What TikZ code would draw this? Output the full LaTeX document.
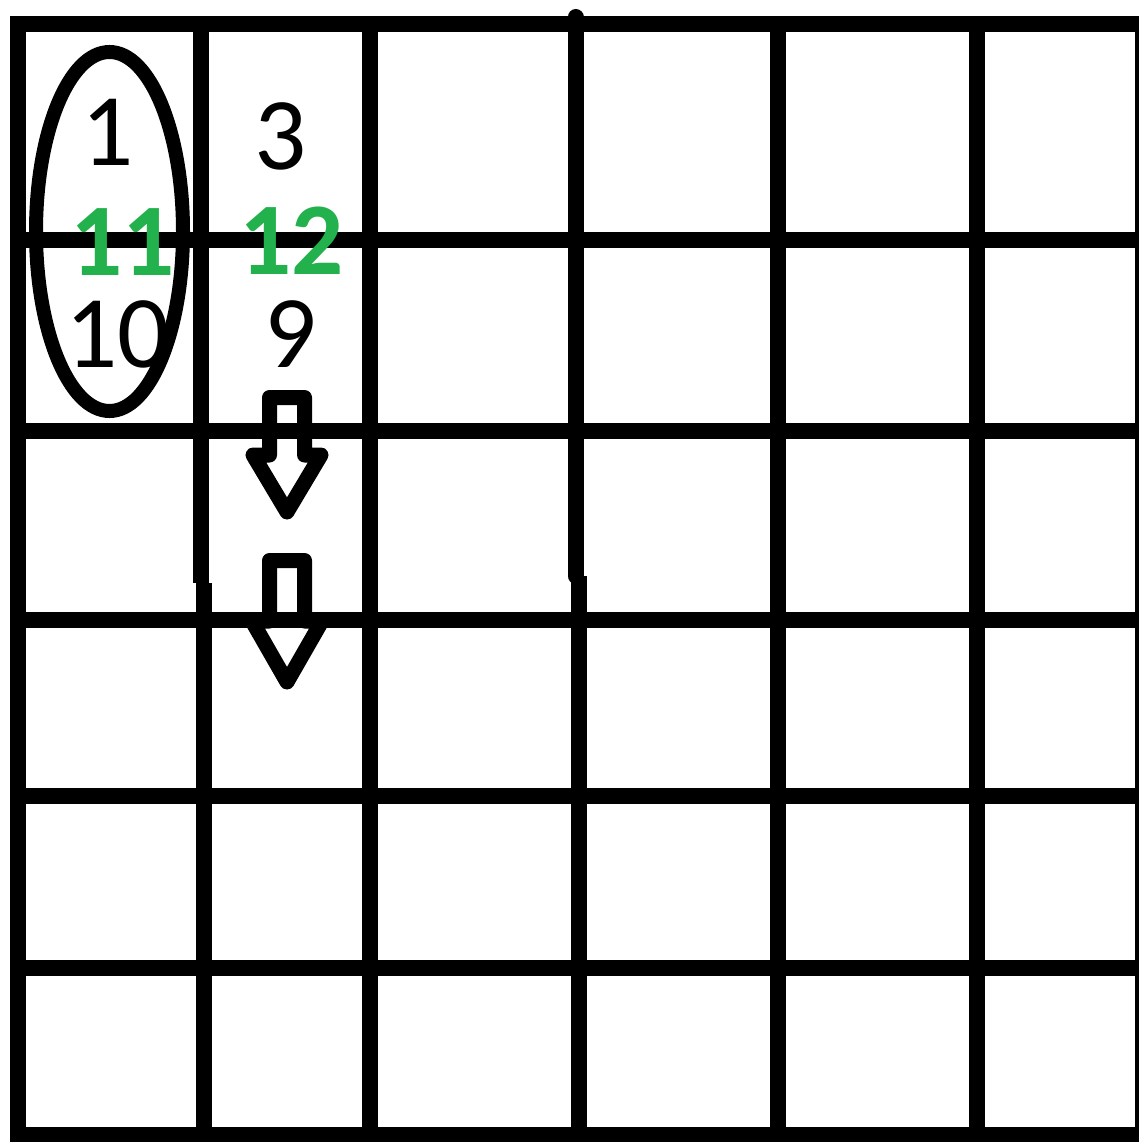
\documentclass[tikz,border=0pt]{standalone}
\usepackage{fontspec}
\setmainfont{Carlito}
\usetikzlibrary{shapes.geometric}

\definecolor{paintgreen}{RGB}{34,177,76}

\begin{document}
\begin{tikzpicture}[
  x=1pt, y=-1pt,
  gridline/.style={line width=16pt},
  ring/.style={draw, ellipse, line width=14pt, inner sep=0pt, minimum width=147pt, minimum height=359pt},
  blockarrow/.style={draw, line width=15pt, line join=round},
  num/.style={inner sep=0pt, font=\fontsize{103}{103}\selectfont},
  greennum/.style={num, text=paintgreen, font=\fontsize{103}{103}\selectfont\bfseries}
]
\useasboundingbox (0,0) rectangle (1139,1142);

\draw[gridline] (18,24) rectangle (1143,1134.5);

\draw[gridline] (200.5,24) -- (200.5,583);
\draw[gridline] (204,583) -- (204,1134.5);
\draw[gridline] (370,24) -- (370,1134.5);
\draw[gridline, line cap=round] (575.5,17) -- (575.5,576);
\draw[gridline] (579,576) -- (579,1134.5);
\draw[gridline] (778,24) -- (778,1134.5);
\draw[gridline] (976.5,24) -- (976.5,1134.5);

\draw[gridline] (18,239.5) -- (1143,239.5);
\draw[gridline] (18,430.5) -- (1143,430.5);
\draw[gridline] (18,620) -- (1143,620);
\draw[gridline] (18,796) -- (1143,796);
\draw[gridline] (18,968) -- (1143,968);

\node[ring] (firstcol) at (109.5,231.5) {};

\draw[blockarrow] (269.5,397.5) -- (304.5,397.5) -- (304.5,455) -- (321,455) -- (287,512) -- (253,455) -- (269.5,455) -- cycle;
\draw[blockarrow] (269.5,560.5) -- (304.5,560.5) -- (304.5,621) -- (322,621) -- (287,682) -- (252,621) -- (269.5,621) -- cycle;

\node[num] (one) at (107.5,132.5) {1};
\node[num] (three) at (280.5,136) {3};
\node[greennum] (eleven) at (122.5,242.5) {11};
\node[greennum] (twelve) at (291.5,240.5) {12};
\node[num] (ten) at (117.5,334.5) {10};
\node[num] (nine) at (291,334.5) {9};

\end{tikzpicture}
\end{document}
